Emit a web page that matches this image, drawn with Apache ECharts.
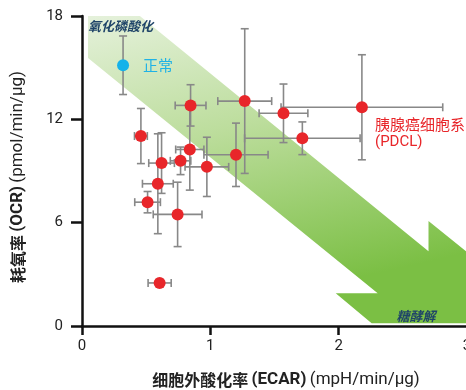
<!DOCTYPE html>
<html>
<head>
<meta charset="utf-8">
<script src="https://cdn.jsdelivr.net/npm/echarts@6/dist/echarts.min.js"></script>
<style>html,body{margin:0;padding:0;background:#fff}#c{width:466px;height:390px}</style>
</head>
<body>
<div id="c"></div>
<script>
// PDCL (red) points
const pdclEcar    = [0.846, 1.268, 1.57, 2.181, 1.717, 0.459, 0.84, 1.20, 0.768, 0.62, 0.973, 0.591, 0.511, 0.745, 0.605];
const pdclOcr     = [12.81, 13.06, 12.35, 12.70, 10.90, 11.03, 10.25, 9.94, 9.59, 9.46, 9.24, 8.26, 7.19, 6.48, 2.50];
const pdclEcarErr = [0.12, 0.21, 0.19, 0.63, 0.45, 0.05, 0.11, 0.25, 0.08, 0.10, 0.17, 0.12, 0.10, 0.19, 0.09];
const pdclOcrErr  = [1.2, 4.2, 1.7, 3.05, 0.95, 1.6, 2.36, 1.84, 0.8, 1.76, 1.72, 2.9, 0.62, 1.87, 0.2];
// Normal (blue) point
const normalEcar    = [0.32];
const normalOcr     = [15.14];
const normalEcarErr = [0];
const normalOcrErr  = [1.7];
// Ticks
const xTicks = [0, 1, 2, 3];
const yTicks = [0, 6, 12, 18];
// Decorative arrow band (data coordinates)
const bandX = [0.047, 0.451, 2.700, 2.700, 3.689, 2.257, 1.977, 2.304, 0.047];
const bandY = [18.0, 18.0, 4.34, 6.09, 0.16, 0.16, 1.90, 1.90, 15.56];

const FONT = "Roboto, 'Noto Sans CJK SC', sans-serif";
const CJK = "'Noto Sans CJK SC', Roboto, sans-serif";
const chart = echarts.init(document.getElementById('c'), null, {renderer: 'canvas'});

function errData(xs, ys, xe, ye) {
  return xs.map((x, i) => [x, ys[i], xe[i], ye[i]]);
}
function renderErr(params, api) {
  const x = api.value(0), y = api.value(1), xe = api.value(2), ye = api.value(3);
  const c = api.coord([x, y]);
  const top = api.coord([x, y + ye]), bot = api.coord([x, y - ye]);
  const lft = api.coord([x - xe, y]), rgt = api.coord([x + xe, y]);
  const st = {stroke: '#888', lineWidth: 1.6};
  const h = 4;
  const ch = [];
  if (ye > 0) {
    ch.push({type: 'line', shape: {x1: c[0], y1: top[1], x2: c[0], y2: bot[1]}, style: st});
    ch.push({type: 'line', shape: {x1: c[0] - h, y1: top[1], x2: c[0] + h, y2: top[1]}, style: st});
    ch.push({type: 'line', shape: {x1: c[0] - h, y1: bot[1], x2: c[0] + h, y2: bot[1]}, style: st});
  }
  if (xe > 0) {
    ch.push({type: 'line', shape: {x1: lft[0], y1: c[1], x2: rgt[0], y2: c[1]}, style: st});
    ch.push({type: 'line', shape: {x1: lft[0], y1: c[1] - h, x2: lft[0], y2: c[1] + h}, style: st});
    ch.push({type: 'line', shape: {x1: rgt[0], y1: c[1] - h, x2: rgt[0], y2: c[1] + h}, style: st});
  }
  return {type: 'group', children: ch};
}

const nameRich = {
  c: {fontSize: 16, fontWeight: 'bold', color: '#222', fontFamily: CJK},
  b: {fontSize: 17, fontWeight: 'bold', color: '#222', fontFamily: FONT},
  n: {fontSize: 17, color: '#222', fontFamily: FONT}
};

const option = {
  animation: false,
  grid: {left: 82, top: 16, width: 385, height: 310, outerBoundsMode: 'none', containLabel: false},
  xAxis: {
    type: 'value', min: xTicks[0], max: xTicks[xTicks.length - 1], interval: 1,
    splitLine: {show: false},
    axisLine: {lineStyle: {color: '#111', width: 2.5}},
    axisTick: {length: 9, lineStyle: {color: '#111', width: 2.5}},
    axisLabel: {color: '#222', fontSize: 15, margin: 13, fontFamily: FONT, hideOverlap: false},
    name: '{c|细胞外酸化率} {b|(ECAR)} {n|(mpH/min/µg)}',
    nameLocation: 'middle', nameGap: 45,
    nameTextStyle: {padding: [0, 0, 0, 23], rich: nameRich}
  },
  yAxis: {
    type: 'value', min: yTicks[0], max: yTicks[yTicks.length - 1], interval: 6,
    splitLine: {show: false},
    axisLine: {lineStyle: {color: '#111', width: 2.5}},
    axisTick: {length: 11, lineStyle: {color: '#111', width: 2.5}},
    axisLabel: {color: '#222', fontSize: 15, margin: 19, fontFamily: FONT},
    name: '{c|耗氧率} {b|(OCR)} {n|(pmol/min/µg)}',
    nameLocation: 'middle', nameGap: 56, nameRotate: 90,
    nameTextStyle: {padding: [0, 12, 0, 0], rich: nameRich}
  },
  series: [
    {
      type: 'custom', z: 1, clip: false, silent: true,
      data: [[0, 0]],
      renderItem: function (params, api) {
        const pts = bandX.map((x, i) => api.coord([x, bandY[i]]));
        const t1 = api.coord([0.047, 18]);
        const t2 = api.coord([2.45, 0.55]);
        return {
          type: 'group',
          children: [
            {type: 'polygon', shape: {points: pts},
              style: {fill: {type: 'linear', x: 0, y: 0, x2: 0.15, y2: 1, colorStops: [
                {offset: 0, color: '#e5f1db'}, {offset: 0.45, color: '#bcdd9c'}, {offset: 1, color: '#7bbf44'}]}}},
            {type: 'text', x: t1[0], y: t1[1] + 10, style: {text: '氧化磷酸化', fill: '#1f4468', font: "italic bold 13px " + CJK, textVerticalAlign: 'middle'}},
            {type: 'text', x: t2[0], y: t2[1], style: {text: '糖酵解', fill: '#1f4468', font: "italic bold 13px " + CJK, textVerticalAlign: 'middle'}}
          ]
        };
      }
    },
    {
      type: 'custom', z: 2, silent: true,
      data: errData(pdclEcar, pdclOcr, pdclEcarErr, pdclOcrErr),
      renderItem: renderErr
    },
    {
      type: 'custom', z: 2, silent: true,
      data: errData(normalEcar, normalOcr, normalEcarErr, normalOcrErr),
      renderItem: renderErr
    },
    {
      type: 'scatter', z: 3, symbolSize: 12,
      itemStyle: {color: '#e8262a', opacity: 1},
      data: pdclEcar.map((x, i) => [x, pdclOcr[i]])
    },
    {
      type: 'scatter', z: 3, symbolSize: 12,
      itemStyle: {color: '#14b2ea', opacity: 1},
      label: {show: true, position: 'right', distance: 14, formatter: '正常', color: '#1fb2e6', fontSize: 15, fontFamily: CJK},
      data: normalEcar.map((x, i) => [x, normalOcr[i]])
    }
  ],
  graphic: [
    {type: 'text', left: 375, top: 117, style: {text: '胰腺癌细胞系', fill: '#e8262a', font: "15px " + CJK}},
    {type: 'text', left: 375, top: 135, style: {text: '(PDCL)', fill: '#e8262a', font: "15px " + FONT}}
  ]
};
chart.setOption(option);
</script>
</body>
</html>
